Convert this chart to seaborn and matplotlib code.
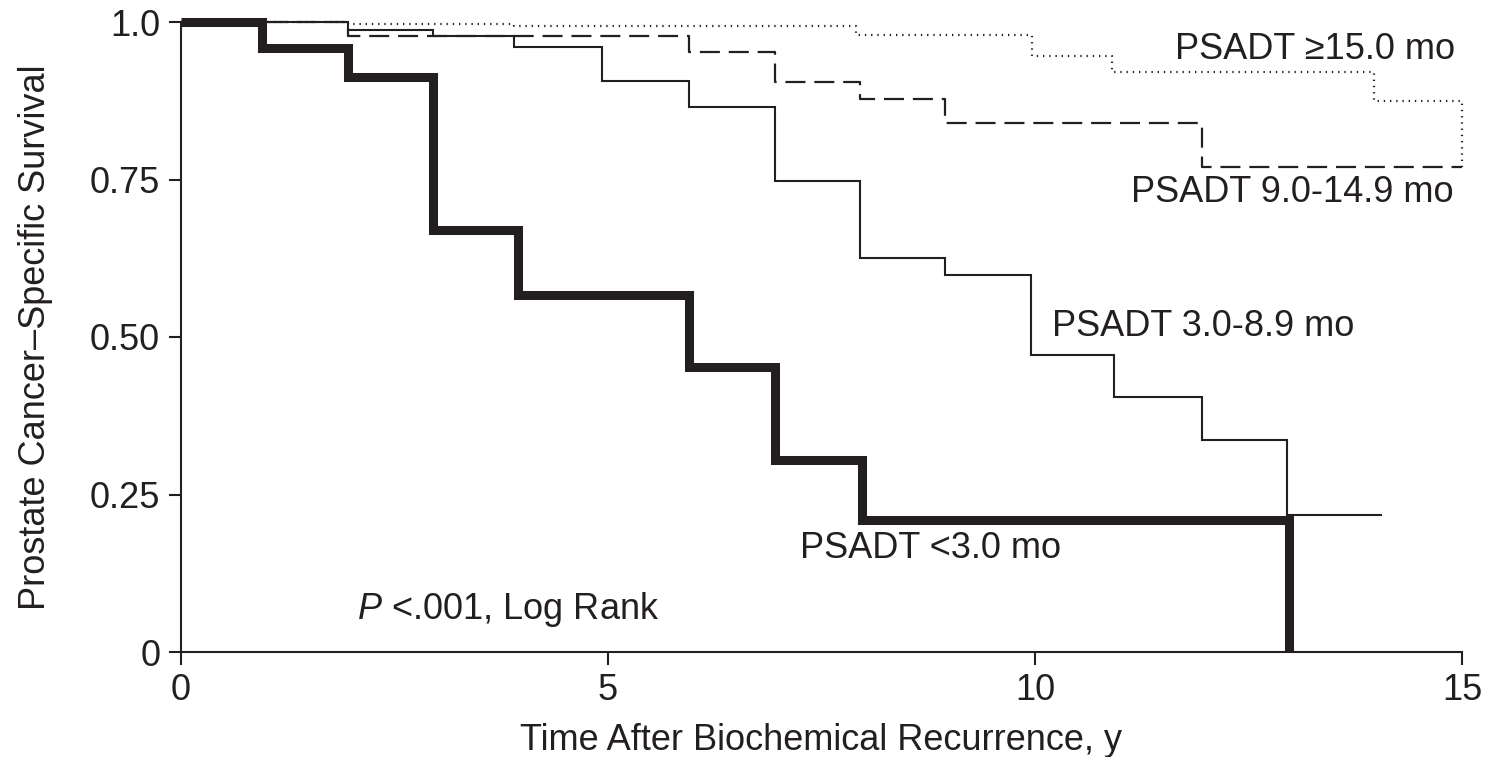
import matplotlib
matplotlib.use("Agg")
import matplotlib.pyplot as plt
import seaborn as sns
import pandas as pd

# ---- data ----
t_lt3 = [0, 0.95, 1.95, 2.95, 3.95, 5.95, 6.95, 7.97, 12.98]
s_lt3 = [1.0, 0.958, 0.913, 0.67, 0.567, 0.453, 0.305, 0.21, 0.0]

t_3_89 = [0, 1.95, 2.95, 3.9, 4.93, 5.95, 6.95, 7.95, 8.95, 9.95, 10.92, 11.95, 12.95, 14.06]
s_3_89 = [1.0, 0.988, 0.978, 0.96, 0.906, 0.865, 0.748, 0.625, 0.598, 0.471, 0.405, 0.337, 0.217, 0.217]

t_9_149 = [0, 1.95, 5.95, 6.95, 7.95, 8.95, 11.95, 15.0]
s_9_149 = [1.0, 0.978, 0.952, 0.905, 0.877, 0.84, 0.77, 0.77]

t_ge15 = [0, 1.95, 3.9, 7.9, 9.96, 10.9, 13.97, 15.0]
s_ge15 = [1.0, 0.997, 0.994, 0.979, 0.946, 0.92, 0.875, 0.77]

groups = ["PSADT <3.0 mo", "PSADT 3.0-8.9 mo", "PSADT 9.0-14.9 mo", "PSADT \u226515.0 mo"]
series = [(t_lt3, s_lt3), (t_3_89, s_3_89), (t_9_149, s_9_149), (t_ge15, s_ge15)]

y_ticks = [0, 0.25, 0.50, 0.75, 1.0]
y_tick_labels = ["0", "0.25", "0.50", "0.75", "1.0"]
x_ticks = [0, 5, 10, 15]

rows = []
for g, (t, s) in zip(groups, series):
    for ti, si in zip(t, s):
        rows.append({"group": g, "time": ti, "surv": si})
df = pd.DataFrame(rows)

# ---- style ----
sns.set_theme(style="ticks")
plt.rcParams["font.family"] = ["Liberation Sans", "DejaVu Sans"]
plt.rcParams["mathtext.fontset"] = "custom"
plt.rcParams["mathtext.rm"] = "Liberation Sans"
plt.rcParams["mathtext.it"] = "Liberation Sans:italic"

ink = "#231f20"
fs = 26

fig = plt.figure(figsize=(14.95, 7.57), dpi=100)
ax = fig.add_axes([181 / 1495, 1 - 652 / 757, (1462 - 181) / 1495, (652 - 22) / 757])

styles = {
    groups[0]: dict(linewidth=6.5, linestyle="-"),
    groups[1]: dict(linewidth=1.5, linestyle="-"),
    groups[2]: dict(linewidth=1.6, linestyle=(0, (9, 4))),
    groups[3]: dict(linewidth=1.6, linestyle=(0, (0.6, 2.2))),
}

for g in groups:
    sub = df[df["group"] == g]
    sns.lineplot(data=sub, x="time", y="surv", ax=ax, estimator=None, sort=False,
                 drawstyle="steps-post", color=ink, clip_on=False,
                 solid_joinstyle="miter", solid_capstyle="butt", **styles[g])

ax.set_xlim(0, 15)
ax.set_ylim(0, 1)
ax.set_xticks(x_ticks)
ax.set_xticklabels([str(v) for v in x_ticks])
ax.set_yticks(y_ticks)
ax.set_yticklabels(y_tick_labels)
sns.despine(ax=ax)
for sp in ["left", "bottom"]:
    ax.spines[sp].set_linewidth(1.5)
    ax.spines[sp].set_color(ink)
ax.tick_params(axis="both", direction="out", length=9, width=1.5, color=ink,
               labelsize=fs, labelcolor=ink, pad=6)

ax.set_xlabel("Time After Biochemical Recurrence, y", fontsize=fs, color=ink)
ax.set_ylabel("Prostate Cancer\u2013Specific Survival", fontsize=fs, color=ink)
ax.xaxis.set_label_coords(0.5, -0.112)
ax.yaxis.set_label_coords(-0.1, 0.5)

ax.text(14.92, 0.956, groups[3], ha="right", va="center", fontsize=fs, color=ink)
ax.text(14.9, 0.729, groups[2], ha="right", va="center", fontsize=fs, color=ink)
ax.text(10.2, 0.516, groups[1], ha="left", va="center", fontsize=fs, color=ink)
ax.text(7.25, 0.165, groups[0], ha="left", va="center", fontsize=fs, color=ink)
ax.text(2.06, 0.067, "$P$ <.001, Log Rank", ha="left", va="center", fontsize=fs, color=ink)

fig.savefig("out.png", dpi=100, facecolor="white")
